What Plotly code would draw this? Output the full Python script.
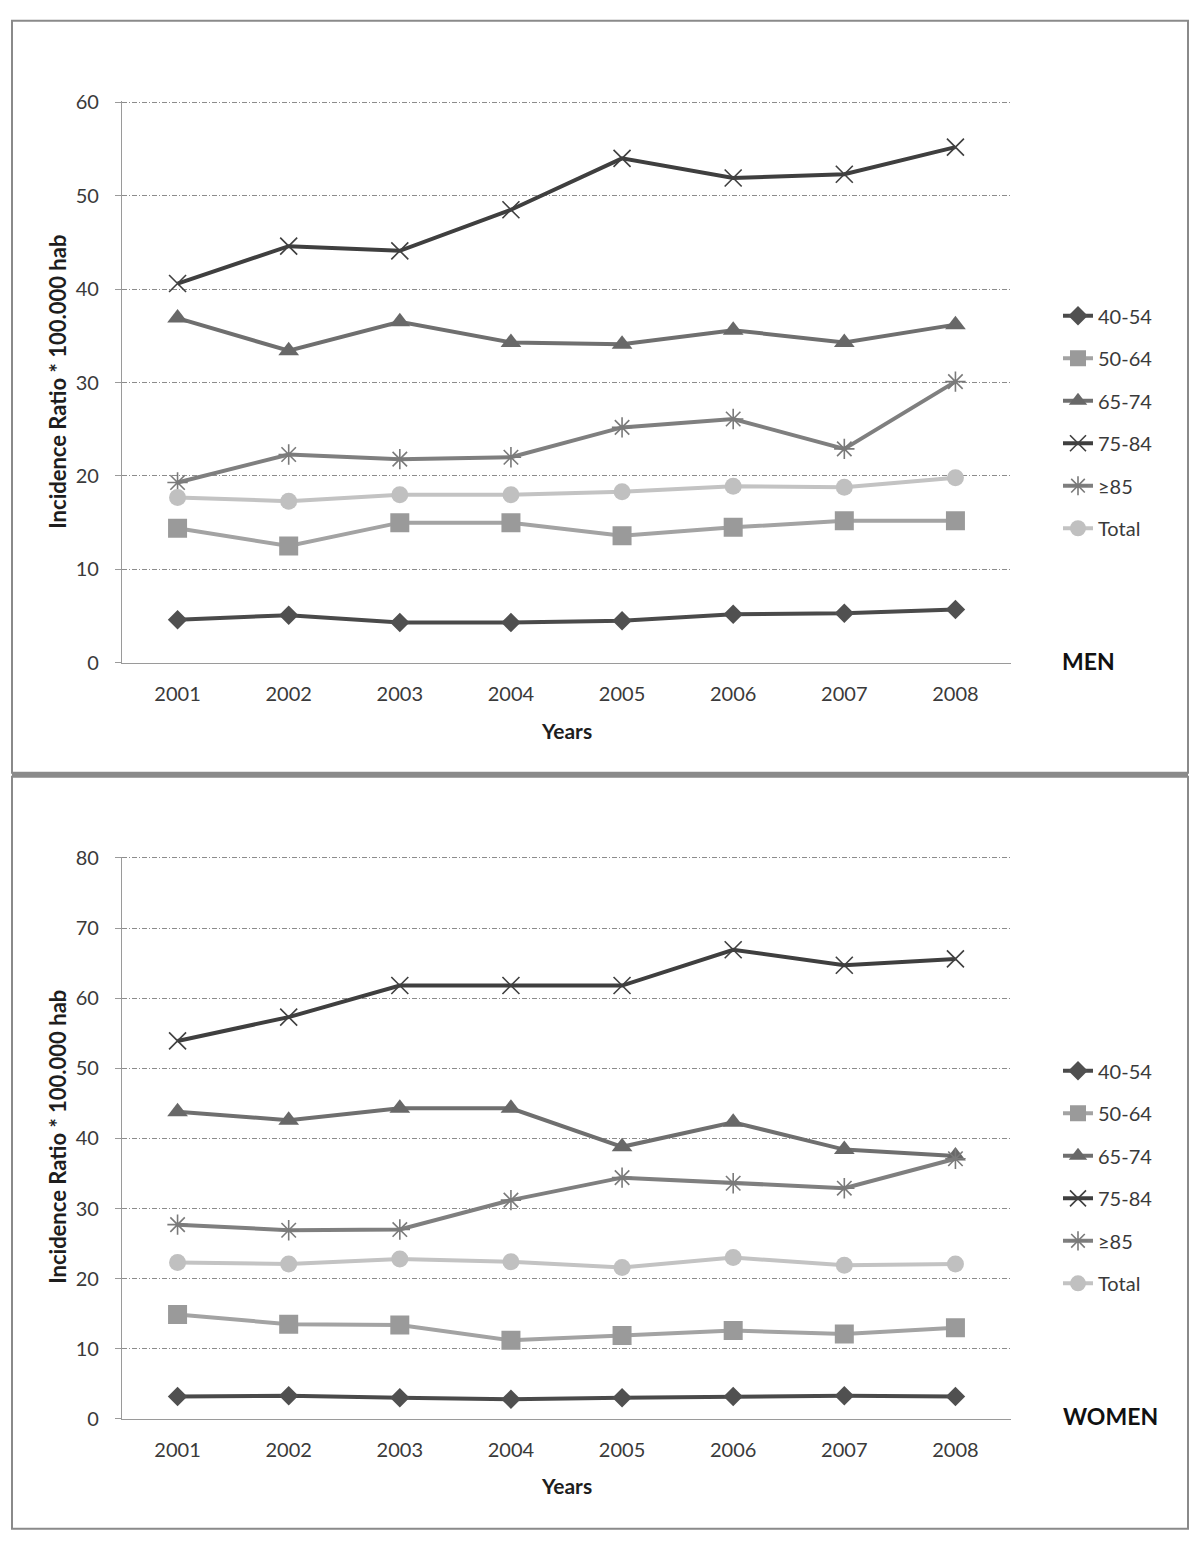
import plotly.graph_objects as go

years = [2001, 2002, 2003, 2004, 2005, 2006, 2007, 2008]
series_names = ["40-54", "50-64", "65-74", "75-84", "≥85", "Total"]

men_40_54 = [4.6, 5.1, 4.3, 4.3, 4.5, 5.2, 5.3, 5.7]
men_50_64 = [14.4, 12.5, 15.0, 15.0, 13.6, 14.5, 15.2, 15.2]
men_65_74 = [36.9, 33.4, 36.5, 34.3, 34.1, 35.6, 34.3, 36.2]
men_75_84 = [40.6, 44.6, 44.1, 48.5, 54.0, 51.9, 52.3, 55.2]
men_85plus = [19.3, 22.3, 21.8, 22.0, 25.2, 26.1, 22.9, 30.1]
men_total = [17.7, 17.3, 18.0, 18.0, 18.3, 18.9, 18.8, 19.8]

women_40_54 = [3.2, 3.3, 3.0, 2.8, 3.0, 3.2, 3.3, 3.2]
women_50_64 = [14.9, 13.5, 13.4, 11.2, 11.9, 12.6, 12.1, 13.0]
women_65_74 = [43.8, 42.6, 44.3, 44.3, 38.8, 42.3, 38.4, 37.5]
women_75_84 = [53.9, 57.3, 61.8, 61.8, 61.8, 66.9, 64.7, 65.6]
women_85plus = [27.7, 26.9, 27.0, 31.2, 34.4, 33.6, 32.9, 37.1]
women_total = [22.3, 22.1, 22.8, 22.4, 21.6, 23.0, 21.9, 22.1]

men_values = [men_40_54, men_50_64, men_65_74, men_75_84, men_85plus, men_total]
women_values = [women_40_54, women_50_64, women_65_74, women_75_84, women_85plus, women_total]

line_colors = ["#4a4a4a", "#a3a3a3", "#6f6f6f", "#3f3f3f", "#7f7f7f", "#c3c3c3"]
marker_colors = ["#505050", "#9a9a9a", "#686868", "#404040", "#7a7a7a", "#c0c0c0"]
symbols = ["diamond", "square", "triangle-up", "x-thin-open", "asterisk-open", "circle"]
sizes = [15, 19, 18, 17, 17, 17]

W, H = 1200, 1545
OX = 8                 # horizontal page offset of the plot
OY, SY = 19.3, 0.985   # vertical page offset / scale observed in the screenshot


def px(x):
    return (x - OX) / W


def py(y):
    return 1 - ((y - OY) / SY) / H


fig = go.Figure()


def add_panel(values, xa, ya, legend):
    for i, name in enumerate(series_names):
        sym = symbols[i]
        marker = dict(symbol=sym, size=sizes[i], color=marker_colors[i])
        if sym.endswith("-open"):
            marker["line"] = dict(width=1.6, color=marker_colors[i])
        else:
            marker["line"] = dict(width=0)
        fig.add_trace(go.Scatter(
            x=years, y=values[i], name=name, mode="lines+markers",
            line=dict(color=line_colors[i], width=4),
            marker=marker, xaxis=xa, yaxis=ya, legend=legend,
            legendgroup=legend + name,
        ))


add_panel(men_values, "x", "y", "legend")
add_panel(women_values, "x2", "y2", "legend2")

font = "Lato, 'Open Sans', sans-serif"
tick_font = dict(size=20, color="#3a3a3a")
xdom = [px(122), px(1011)]


def xaxis(anchor):
    return dict(domain=xdom, anchor=anchor, range=[2000.5, 2008.5], tickvals=years,
                ticks="", showgrid=False, zeroline=False, showline=True,
                linecolor="#9a9a9a", linewidth=1.2, tickfont=tick_font,
                ticklabelstandoff=13)


def yaxis(anchor, top, bottom, ymax):
    return dict(domain=[py(bottom), py(top)], anchor=anchor, range=[0, ymax * 1.002],
                tickvals=list(range(0, ymax + 1, 10)),
                ticks="outside", ticklen=6, tickcolor="#9a9a9a", tickfont=tick_font,
                ticklabelstandoff=12,
                showgrid=True, gridcolor="#8c8c8c", gridwidth=1,
                griddash="5px,2px,1px,2px",
                zeroline=False, showline=True, linecolor="#9a9a9a", linewidth=1.2)


legend_common = dict(xanchor="left", yanchor="top", bgcolor="rgba(0,0,0,0)",
                     tracegroupgap=13.5, font=dict(size=20, color="#3a3a3a"))

fig.update_layout(
    width=W, height=H,
    margin=dict(l=0, r=0, t=0, b=0),
    paper_bgcolor="white", plot_bgcolor="white",
    font=dict(family=font, size=20, color="#3a3a3a"),
    xaxis=xaxis("y"),
    yaxis=yaxis("x", 100.5, 662, 60),
    xaxis2=xaxis("y2"),
    yaxis2=yaxis("x2", 856, 1418, 80),
    legend=dict(x=px(1058), y=py(295.5), **legend_common),
    legend2=dict(x=px(1058), y=py(1050.5), **legend_common),
    showlegend=True,
)

# panel frames
fig.add_shape(type="rect", xref="paper", yref="paper", x0=px(12), x1=px(1188),
              y0=py(772), y1=py(20), line=dict(color="#8a8a8a", width=2))
fig.add_shape(type="rect", xref="paper", yref="paper", x0=px(12), x1=px(1188),
              y0=py(1528), y1=py(776), line=dict(color="#8a8a8a", width=2))
fig.add_shape(type="line", xref="paper", yref="paper", x0=px(12), x1=px(1188),
              y0=py(774), y1=py(774), line=dict(color="#8a8a8a", width=4))

title_font = dict(size=22, color="#1e1e1e")
for yc, xt in [(381, 730), (1136, 1485)]:
    fig.add_annotation(text="<b>Incidence Ratio * 100.000 hab</b>", x=px(58), y=py(yc),
                       xref="paper", yref="paper", textangle=-90, showarrow=False,
                       xanchor="center", yanchor="middle", font=title_font)
    fig.add_annotation(text="<b>Years</b>", x=px(566), y=py(xt), xref="paper", yref="paper",
                       showarrow=False, xanchor="center", yanchor="middle",
                       font=dict(size=21, color="#1e1e1e"))

fig.add_annotation(text="<b>MEN</b>", x=px(1088), y=py(660), xref="paper", yref="paper",
                   showarrow=False, xanchor="center", yanchor="middle",
                   font=dict(size=23, color="#111"))
fig.add_annotation(text="<b>WOMEN</b>", x=px(1110), y=py(1415), xref="paper", yref="paper",
                   showarrow=False, xanchor="center", yanchor="middle",
                   font=dict(size=23, color="#111"))

fig.write_html("out.html")
